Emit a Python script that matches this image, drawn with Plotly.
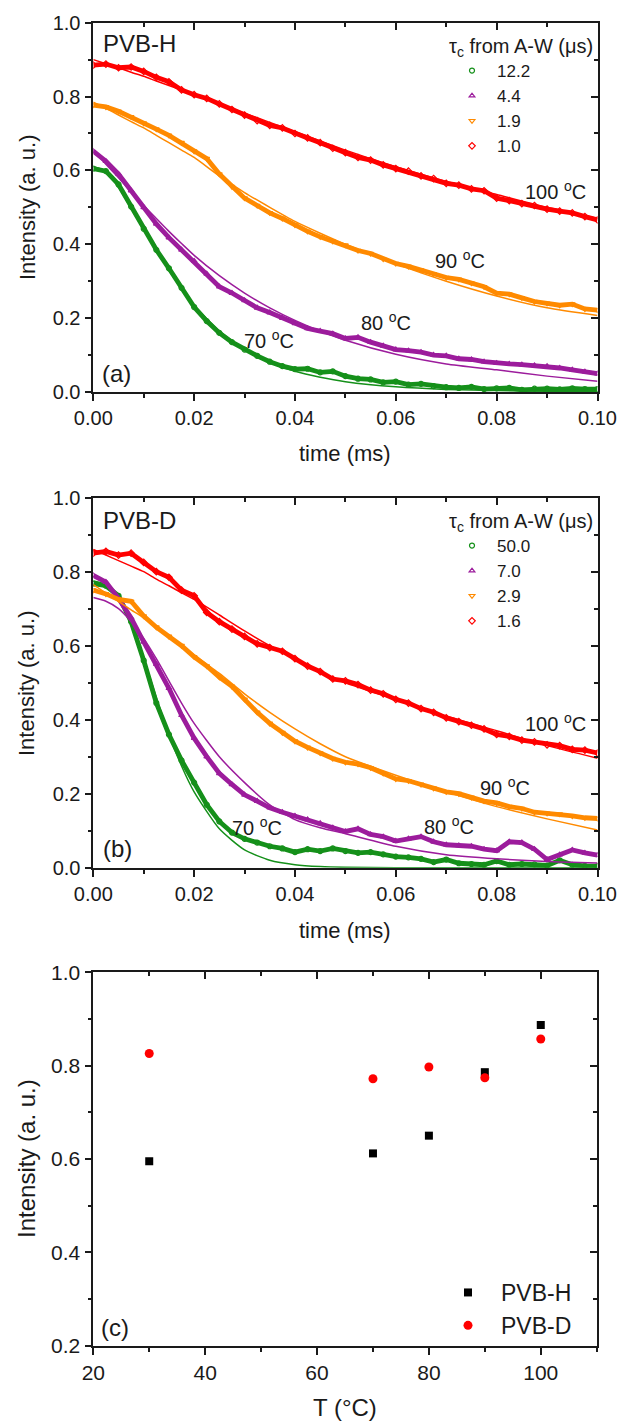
import plotly.graph_objects as go

# ---------------- data ----------------
TIME = [0, 0.0025, 0.005, 0.0075, 0.01, 0.0125, 0.015, 0.0175, 0.02, 0.0225,
        0.025, 0.0275, 0.03, 0.0325, 0.035, 0.0375, 0.04, 0.0425, 0.045, 0.0475,
        0.05, 0.0525, 0.055, 0.0575, 0.06, 0.0625, 0.065, 0.0675, 0.07, 0.0725,
        0.075, 0.0775, 0.08, 0.0825, 0.085, 0.0875, 0.09, 0.0925, 0.095, 0.0975, 0.1]
FIT_TIME = [0, 0.0025, 0.005, 0.0075, 0.01, 0.0125, 0.015, 0.0175, 0.02, 0.025,
            0.03, 0.035, 0.04, 0.045, 0.05, 0.06, 0.07, 0.08, 0.09, 0.1]

# panel (a) PVB-H
H70 = [0.605, 0.598, 0.562, 0.502, 0.442, 0.385, 0.335, 0.282, 0.23, 0.192,
       0.16, 0.135, 0.115, 0.098, 0.082, 0.07, 0.062, 0.063, 0.053, 0.056,
       0.043, 0.036, 0.034, 0.026, 0.028, 0.02, 0.022, 0.016, 0.013, 0.011,
       0.014, 0.008, 0.01, 0.011, 0.006, 0.009, 0.009, 0.007, 0.01, 0.008, 0.008]
H80 = [0.652, 0.625, 0.59, 0.545, 0.50, 0.455, 0.418, 0.385, 0.355, 0.32,
       0.285, 0.268, 0.248, 0.228, 0.215, 0.2, 0.186, 0.172, 0.165, 0.158,
       0.145, 0.148, 0.135, 0.125, 0.115, 0.112, 0.108, 0.1, 0.098, 0.09,
       0.088, 0.082, 0.078, 0.076, 0.074, 0.072, 0.07, 0.065, 0.06, 0.055, 0.05]
H90 = [0.777, 0.772, 0.76, 0.745, 0.728, 0.712, 0.695, 0.675, 0.652, 0.632,
       0.59, 0.556, 0.525, 0.505, 0.485, 0.47, 0.452, 0.435, 0.42, 0.408,
       0.398, 0.383, 0.375, 0.36, 0.348, 0.34, 0.33, 0.32, 0.31, 0.305,
       0.295, 0.285, 0.268, 0.265, 0.255, 0.245, 0.24, 0.235, 0.238, 0.225, 0.222]
H100 = [0.885, 0.888, 0.878, 0.88, 0.868, 0.852, 0.84, 0.818, 0.805, 0.795,
        0.78, 0.765, 0.75, 0.735, 0.722, 0.715, 0.70, 0.688, 0.675, 0.66,
        0.648, 0.635, 0.628, 0.615, 0.605, 0.598, 0.585, 0.578, 0.565, 0.56,
        0.55, 0.545, 0.525, 0.518, 0.51, 0.505, 0.495, 0.49, 0.485, 0.475, 0.466]
H70_FIT = [0.61, 0.598, 0.555, 0.497, 0.44, 0.385, 0.33, 0.28, 0.235, 0.165,
           0.115, 0.08, 0.056, 0.04, 0.028, 0.014, 0.007, 0.004, 0.002, 0.001]
H80_FIT = [0.655, 0.617, 0.58, 0.542, 0.505, 0.47, 0.435, 0.402, 0.37, 0.315,
           0.268, 0.228, 0.194, 0.165, 0.14, 0.102, 0.076, 0.06, 0.043, 0.029]
H90_FIT = [0.785, 0.768, 0.75, 0.732, 0.715, 0.695, 0.675, 0.655, 0.635, 0.585,
           0.54, 0.50, 0.462, 0.43, 0.40, 0.347, 0.30, 0.26, 0.228, 0.207]
H100_FIT = [0.90, 0.889, 0.878, 0.866, 0.855, 0.842, 0.83, 0.818, 0.805, 0.78,
            0.755, 0.73, 0.705, 0.68, 0.655, 0.61, 0.57, 0.535, 0.50, 0.47]

# panel (b) PVB-D
D70 = [0.768, 0.762, 0.735, 0.665, 0.56, 0.445, 0.36, 0.29, 0.23, 0.17,
       0.125, 0.095, 0.078, 0.068, 0.058, 0.052, 0.042, 0.05, 0.045, 0.052,
       0.045, 0.04, 0.042, 0.036, 0.03, 0.028, 0.024, 0.015, 0.022, 0.012,
       0.01, 0.008, 0.018, 0.008, 0.01, 0.009, 0.006, 0.02, 0.008, 0.005, 0.004]
D80 = [0.79, 0.772, 0.728, 0.675, 0.61, 0.55, 0.485, 0.412, 0.35, 0.30,
       0.255, 0.225, 0.197, 0.18, 0.162, 0.15, 0.14, 0.13, 0.12, 0.108,
       0.098, 0.105, 0.09, 0.084, 0.072, 0.078, 0.084, 0.07, 0.062, 0.06,
       0.058, 0.05, 0.046, 0.07, 0.068, 0.05, 0.022, 0.035, 0.048, 0.04, 0.034]
D90 = [0.75, 0.74, 0.725, 0.72, 0.68, 0.65, 0.625, 0.60, 0.57, 0.545,
       0.515, 0.49, 0.455, 0.42, 0.39, 0.365, 0.342, 0.325, 0.31, 0.295,
       0.285, 0.28, 0.27, 0.255, 0.24, 0.235, 0.225, 0.215, 0.205, 0.2,
       0.19, 0.18, 0.175, 0.165, 0.16, 0.15, 0.147, 0.145, 0.14, 0.135, 0.133]
D100 = [0.85, 0.855, 0.845, 0.85, 0.825, 0.80, 0.785, 0.75, 0.735, 0.69,
        0.665, 0.645, 0.625, 0.605, 0.595, 0.585, 0.565, 0.545, 0.53, 0.51,
        0.505, 0.495, 0.48, 0.47, 0.455, 0.445, 0.43, 0.42, 0.405, 0.395,
        0.385, 0.375, 0.36, 0.355, 0.345, 0.34, 0.332, 0.33, 0.32, 0.318, 0.31]
D70_FIT = [0.775, 0.765, 0.73, 0.66, 0.565, 0.46, 0.36, 0.275, 0.205, 0.105,
           0.048, 0.02, 0.008, 0.003, 0.001, 0.0, 0.0, 0.0, 0.0, 0.0]
D80_FIT = [0.73, 0.72, 0.70, 0.665, 0.62, 0.565, 0.505, 0.445, 0.39, 0.30,
           0.23, 0.17, 0.13, 0.108, 0.092, 0.058, 0.035, 0.024, 0.017, 0.013]
D90_FIT = [0.765, 0.742, 0.72, 0.697, 0.675, 0.65, 0.625, 0.60, 0.575, 0.525,
           0.47, 0.42, 0.375, 0.335, 0.30, 0.25, 0.205, 0.165, 0.132, 0.102]
D100_FIT = [0.86, 0.845, 0.83, 0.815, 0.80, 0.78, 0.762, 0.743, 0.725, 0.683,
            0.64, 0.60, 0.565, 0.53, 0.50, 0.455, 0.41, 0.37, 0.33, 0.296]

# panel (c)
TEMPS_C = [30, 70, 80, 90, 100]
PVBH_I0 = [0.595, 0.612, 0.650, 0.786, 0.887]
PVBD_I0 = [0.826, 0.772, 0.797, 0.774, 0.857]

TAU_H = ["12.2", "4.4", "1.9", "1.0"]
TAU_D = ["50.0", "7.0", "2.9", "1.6"]
TEMP_TXT = ["70 <sup>o</sup>C", "80 <sup>o</sup>C", "90 <sup>o</sup>C", "100 <sup>o</sup>C"]
# label anchor positions (time, intensity) for the temperature tags
LBL_A_T = [0.0348, 0.058, 0.0728, 0.0917]
LBL_A_I = [0.1435, 0.19, 0.359, 0.545]
LBL_B_T = [0.0325, 0.0706, 0.0816, 0.0917]
LBL_B_I = [0.111, 0.115, 0.219, 0.392]

# ---------------- style ----------------
FONT = "Liberation Sans, Arial, sans-serif"
INK = "#1a1a1a"
COLORS = ["#15901a", "#9c1c9c", "#ff8a00", "#ff0000"]
SYMBOLS = ["circle-open", "triangle-up-open", "triangle-down-open", "diamond-open"]

W, H = 620, 1421
def fx(p):
    return p / W
def fy(p):
    return 1 - p / H

XDOM = [fx(93.3), fx(597.5)]
XDOM_C = [fx(93.3), fx(596.7)]
YDOM_A = [fy(392.0), fy(22.7)]
YDOM_B = [fy(867.7), fy(497.7)]
YDOM_C = [fy(1345.7), fy(972.3)]

fig = go.Figure()

def add_panel(xa, ya, leg, data, fits, names):
    for vals, fit, c, sym, nm in zip(data, fits, COLORS, SYMBOLS, names):
        fig.add_trace(go.Scatter(x=TIME, y=vals, mode="lines", xaxis=xa, yaxis=ya,
                                 line=dict(color=c, width=4.8), showlegend=False,
                                 hoverinfo="skip"))
        fig.add_trace(go.Scatter(x=TIME, y=vals, mode="markers", xaxis=xa, yaxis=ya,
                                 marker=dict(symbol=sym, size=5, color=c,
                                             line=dict(color=c, width=1.2)),
                                 name=nm, legend=leg))
        fig.add_trace(go.Scatter(x=FIT_TIME, y=fit, mode="lines", xaxis=xa, yaxis=ya,
                                 line=dict(color=c, width=1.5, shape="spline", smoothing=0.6),
                                 showlegend=False, hoverinfo="skip"))

add_panel("x", "y", "legend", [H70, H80, H90, H100],
          [H70_FIT, H80_FIT, H90_FIT, H100_FIT], TAU_H)
add_panel("x2", "y2", "legend2", [D70, D80, D90, D100],
          [D70_FIT, D80_FIT, D90_FIT, D100_FIT], TAU_D)

fig.add_trace(go.Scatter(x=TEMPS_C, y=PVBH_I0, mode="markers", xaxis="x3", yaxis="y3",
                         marker=dict(symbol="square", size=8, color="black"),
                         name="PVB-H", legend="legend3"))
fig.add_trace(go.Scatter(x=TEMPS_C, y=PVBD_I0, mode="markers", xaxis="x3", yaxis="y3",
                         marker=dict(symbol="circle", size=9, color="red"),
                         name="PVB-D", legend="legend3"))

# transparent copies so that the mirrored (top / right) frame axes get drawn
for xa, ya, xs, ys in [("x4", "y4", TIME, H70), ("x5", "y5", TIME, D70),
                       ("x6", "y6", TEMPS_C, PVBH_I0)]:
    fig.add_trace(go.Scatter(x=xs, y=ys, mode="lines", xaxis=xa, yaxis=ya, opacity=0,
                             line=dict(width=0.1), showlegend=False, hoverinfo="skip"))

TICKFONT = dict(family=FONT, size=20, color=INK)

def base_axis(dom, anchor, rng, dtick, mdtick, fmt, tickfont=TICKFONT):
    return dict(domain=dom, anchor=anchor, range=rng, dtick=dtick, tick0=rng[0],
                tickformat=fmt, showline=True, linecolor=INK, linewidth=1.6,
                ticks="outside", ticklen=7, tickwidth=1.5, tickcolor=INK,
                showgrid=False, zeroline=False, tickfont=tickfont,
                minor=dict(ticks="outside", ticklen=4, tickwidth=1.5, tickcolor=INK,
                           dtick=mdtick, tick0=rng[0], showgrid=False))

def mirror_axis(over, anchor, side, rng, dtick, mdtick):
    return dict(overlaying=over, anchor=anchor, side=side, range=rng, dtick=dtick,
                tick0=rng[0], showline=True, linecolor=INK, linewidth=1.6,
                ticks="inside", ticklen=7, tickwidth=1.5, tickcolor=INK,
                showticklabels=False, showgrid=False, zeroline=False,
                minor=dict(ticks="inside", ticklen=4, tickwidth=1.5, tickcolor=INK,
                           dtick=mdtick, tick0=rng[0], showgrid=False))

TR = [0, 0.1]
IR = [0, 1.0]
CR = [20, 110]
CIR = [0.2, 1.0]
CFONT = dict(family=FONT, size=21, color=INK)

fig.update_layout(
    width=W, height=H, margin=dict(l=0, r=0, t=0, b=0, autoexpand=False),
    paper_bgcolor="white", plot_bgcolor="white", showlegend=True,
    font=dict(family=FONT, color=INK),
    xaxis=base_axis(XDOM, "y", TR, 0.02, 0.01, ".2f"),
    yaxis=base_axis(YDOM_A, "x", IR, 0.2, 0.1, ".1f"),
    xaxis2=base_axis(XDOM, "y2", TR, 0.02, 0.01, ".2f"),
    yaxis2=base_axis(YDOM_B, "x2", IR, 0.2, 0.1, ".1f"),
    xaxis3=base_axis(XDOM_C, "y3", CR, 20, 10, "d", CFONT),
    yaxis3=base_axis(YDOM_C, "x3", CIR, 0.2, 0.1, ".1f", CFONT),
    xaxis4=mirror_axis("x", "y", "top", TR, 0.02, 0.01),
    yaxis4=mirror_axis("y", "x", "right", IR, 0.2, 0.1),
    xaxis5=mirror_axis("x2", "y2", "top", TR, 0.02, 0.01),
    yaxis5=mirror_axis("y2", "x2", "right", IR, 0.2, 0.1),
    xaxis6=mirror_axis("x3", "y3", "top", CR, 20, 10),
    yaxis6=mirror_axis("y3", "x3", "right", CIR, 0.2, 0.1),
    legend=dict(x=fx(447), y=fy(27), xanchor="left", yanchor="top",
                bgcolor="rgba(0,0,0,0)", itemwidth=40, tracegroupgap=0,
                font=dict(family=FONT, size=17, color=INK),
                title=dict(text="τ<sub>c</sub> from A-W (μs)",
                           font=dict(family=FONT, size=20, color=INK))),
    legend2=dict(x=fx(447), y=fy(502), xanchor="left", yanchor="top",
                 bgcolor="rgba(0,0,0,0)", itemwidth=40, tracegroupgap=0,
                 font=dict(family=FONT, size=17, color=INK),
                 title=dict(text="τ<sub>c</sub> from A-W (μs)",
                            font=dict(family=FONT, size=20, color=INK))),
    legend3=dict(x=fx(435), y=fy(1271), xanchor="left", yanchor="top",
                 bgcolor="rgba(0,0,0,0)", itemwidth=56, tracegroupgap=0,
                 font=dict(family=FONT, size=23, color=INK)),
)

ann = []
def txt(text, x, y, size, xanchor="center", xref="paper", yref="paper", angle=0):
    ann.append(dict(text=text, x=x, y=y, xref=xref, yref=yref, showarrow=False,
                    xanchor=xanchor, yanchor="middle", textangle=angle,
                    font=dict(family=FONT, size=size, color=INK)))

# temperature tags in data coordinates
for t, i, s in zip(LBL_A_T, LBL_A_I, TEMP_TXT):
    txt(s, t, i, 20, xref="x", yref="y")
for t, i, s in zip(LBL_B_T, LBL_B_I, TEMP_TXT):
    txt(s, t, i, 20, xref="x2", yref="y2")

txt("PVB-H", fx(101), fy(43), 24, xanchor="left")
txt("PVB-D", fx(101), fy(520), 24, xanchor="left")
txt("(a)", fx(100), fy(373), 24, xanchor="left")
txt("(b)", fx(101), fy(848), 24, xanchor="left")
txt("(c)", fx(99), fy(1327), 24, xanchor="left")

txt("time (ms)", fx(345.4), fy(453), 22)
txt("time (ms)", fx(345.4), fy(930), 22)
txt("T (°C)", fx(345), fy(1407), 24)
txt("Intensity (a. u.)", fx(27), fy(207), 22, angle=-90)
txt("Intensity (a. u.)", fx(27), fy(683), 22, angle=-90)
txt("Intensity (a. u.)", fx(26), fy(1159), 24, angle=-90)

fig.update_layout(annotations=ann)
# let the figure fill the 620x1421 window exactly (no default body margin / scrollbars)
fig.write_html("out.html",
               config={"displayModeBar": False},
               post_script="document.body.style.margin='0';"
                           "document.body.style.overflow='hidden';")
